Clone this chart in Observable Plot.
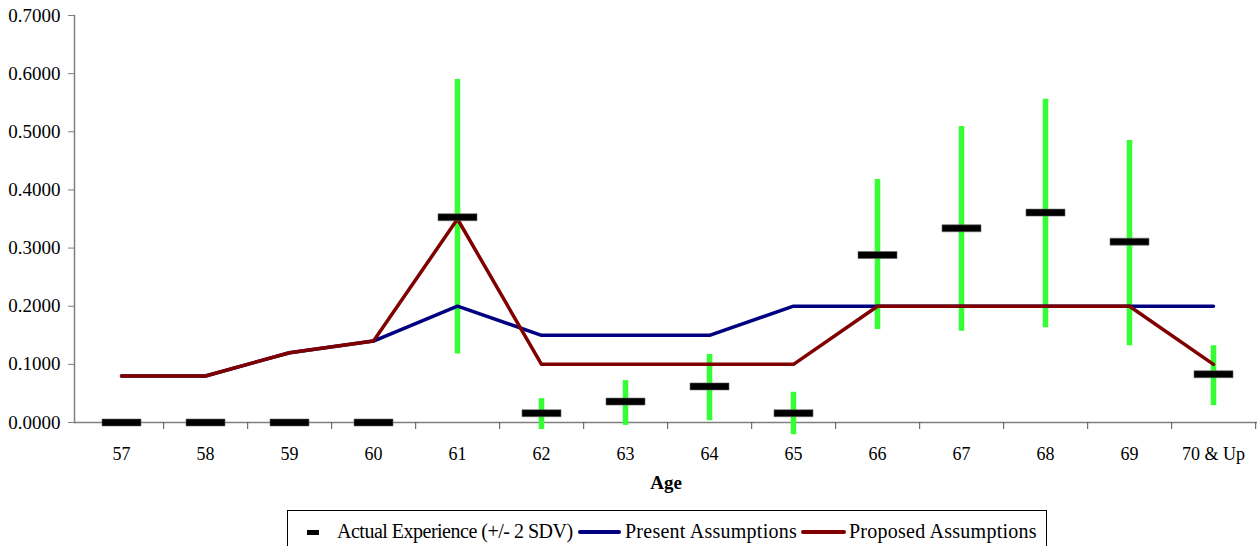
<!DOCTYPE html>
<html><head><meta charset="utf-8">
<script src="https://cdn.jsdelivr.net/npm/d3@7"></script>
<script src="https://cdn.jsdelivr.net/npm/@observablehq/plot@0.6"></script>
<style>
body{margin:0;background:#fff;font-family:"Liberation Serif","Times New Roman",serif;}
#wrap{position:relative;width:1259px;height:546px;overflow:hidden;background:#fff;}
#legend{position:absolute;left:287px;top:510px;width:760px;height:44px;border:1px solid #000;box-sizing:border-box;font-size:20px;color:#000;}
.txt{position:absolute;top:10px;line-height:20px;white-space:nowrap;}
.sym{position:absolute;}
</style></head><body>
<div id="wrap"><div id="chart"></div><div id="legend"></div></div>
<script>
const ages = ["57","58","59","60","61","62","63","64","65","66","67","68","69","70 & Up"];
const actual = [0,0,0,0,0.353,0.016,0.036,0.062,0.016,0.288,0.334,0.361,0.311,0.083];
const upper2sd = [null,null,null,null,0.590,0.041,0.072,0.117,0.052,0.418,0.509,0.556,0.485,0.132];
const lower2sd = [null,null,null,null,0.118,-0.012,-0.005,0.003,-0.021,0.160,0.157,0.163,0.132,0.029];
const present = [0.08,0.08,0.12,0.14,0.20,0.15,0.15,0.15,0.20,0.20,0.20,0.20,0.20,0.20];
const proposed = [0.08,0.08,0.12,0.14,0.35,0.10,0.10,0.10,0.10,0.20,0.20,0.20,0.20,0.10];
const yTicks = [0,0.1,0.2,0.3,0.4,0.5,0.6,0.7];
const seriesNames = ["Actual Experience (+/- 2 SDV)","Present Assumptions","Proposed Assumptions"];

const rows = ages.map((a,i)=>({age:a, actual:actual[i], hi:upper2sd[i], lo:lower2sd[i], present:present[i], proposed:proposed[i]}));
const bars = rows.filter(d=>d.hi!=null);

const W=1259, ML=74, MR=2, INSET=2;
const step = (W-ML-MR-INSET)/ages.length;
const dash = {draw(ctx){ctx.moveTo(-19.5,-3.5);ctx.lineTo(19.5,-3.5);ctx.lineTo(19.5,3.5);ctx.lineTo(-19.5,3.5);ctx.closePath();}};

const chart = Plot.plot({
  width: W, height: 505,
  marginTop: 15, marginBottom: 83, marginLeft: ML, marginRight: MR,
  insetLeft: INSET,
  style: {fontFamily: "'Liberation Serif','Times New Roman',serif", fontSize: "18px", color: "#000", background: "#fff", overflow: "visible"},
  x: {type: "point", domain: ages, padding: 0.5, axis: null},
  y: {domain: [0, 0.7], axis: null},
  marks: [
    Plot.ruleY([0], {stroke: "#808080", strokeWidth: 1.5}),
    Plot.frame({anchor: "left", stroke: "#808080", strokeWidth: 1.5}),
    Plot.axisY(yTicks, {tickFormat: d3.format(".4f"), tickSize: 6, tickPadding: 8, stroke: "#808080", fill: "#000", fontSize: 19, label: null}),
    Plot.axisX({tickSize: 0, tickPadding: 25, label: null, fontSize: 18, fill: "#000"}),
    Plot.axisX({tickSize: 7, tickFormat: () => "", dx: step/2, label: null, stroke: "#555"}),
    Plot.ruleX(bars, {x: "age", y1: "lo", y2: "hi", stroke: "#33ff33", strokeWidth: 5.5}),
    Plot.line(rows, {x: "age", y: "present", stroke: "#000080", strokeWidth: 3.5}),
    Plot.line(rows, {x: "age", y: "proposed", stroke: "#800000", strokeWidth: 3.5}),
    Plot.dot(rows, {x: "age", y: "actual", symbol: dash, fill: "#000", stroke: "#666", strokeWidth: 0.6}),
    Plot.text(["Age"], {frameAnchor: "bottom", dy: 66, fontWeight: "bold", fontSize: 19, fill: "#000"})
  ]
});
document.getElementById("chart").appendChild(chart);

const lg = document.getElementById("legend");
const items = [
  {name: seriesNames[0], sym: {left:19, top:19, width:12, height:5, background:"#000"}, text:49, ls:"-0.5px"},
  {name: seriesNames[1], sym: {left:290, top:19, width:43, height:4, background:"#000080", borderRadius:"2px"}, text:337, ls:"0.25px"},
  {name: seriesNames[2], sym: {left:513, top:19, width:45, height:4, background:"#800000", borderRadius:"2px"}, text:561, ls:"0.25px"}
];
for (const it of items) {
  const s = document.createElement("div"); s.className="sym";
  for (const k in it.sym) s.style[k] = typeof it.sym[k]==="number" ? it.sym[k]+"px" : it.sym[k];
  lg.appendChild(s);
  const t = document.createElement("div"); t.className="txt"; t.style.left = it.text+"px"; t.style.letterSpacing = it.ls; t.textContent = it.name;
  lg.appendChild(t);
}
</script>
</body></html>
